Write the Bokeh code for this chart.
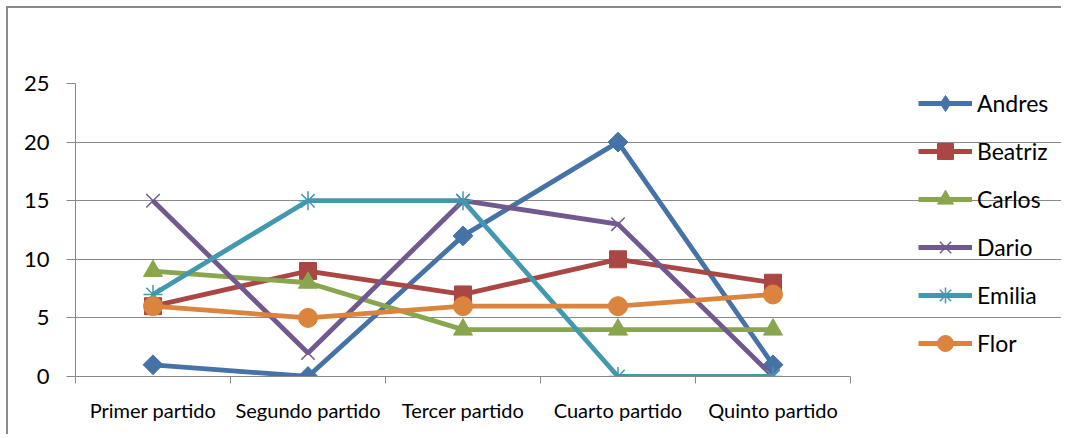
import math
from bokeh.plotting import figure
from bokeh.models import FixedTicker, Legend, LegendItem, InlineStyleSheet
from bokeh.embed import file_html
from bokeh.resources import INLINE

partidos = ["Primer partido", "Segundo partido", "Tercer partido", "Cuarto partido", "Quinto partido"]
posiciones = [1, 2, 3, 4, 5]
limites = [0.5, 1.5, 2.5, 3.5, 4.5, 5.5]
y_ticks = [0, 5, 10, 15, 20, 25]

andres = [1, 0, 12, 20, 1]
beatriz = [6, 9, 7, 10, 8]
carlos = [9, 8, 4, 4, 4]
dario = [15, 2, 15, 13, 0]
emilia = [7, 15, 15, 0, 0]
flor = [6, 5, 6, 6, 7]

nombres = ["Andres", "Beatriz", "Carlos", "Dario", "Emilia", "Flor"]
series = [andres, beatriz, carlos, dario, emilia, flor]
colores = ["#4572A7", "#AA4643", "#89A54E", "#71588F", "#4198AF", "#DB843D"]

FONT = "Lato"
GRAY = "#898989"

# frame: plot area 775px wide for 5 categories, extended to the right for the legend
CAT_PX = 155.0
FRAME_W = 1055 - 67
x_end = 0.5 + FRAME_W / CAT_PX

css = InlineStyleSheet(css=":host { border-top: 2px solid #8a8a8a; border-left: 2px solid #8a8a8a; }")

p = figure(width=1055, height=428, output_backend="svg", toolbar_location=None,
           x_range=(0.5, x_end), y_range=(0, 25),
           min_border_left=67, min_border_right=0, min_border_top=75, min_border_bottom=60,
           stylesheets=[css])
p.margin = (6, 0, 0, 6)
p.outline_line_color = None
p.background_fill_color = "white"
p.border_fill_color = "white"

# grid
p.xgrid.grid_line_color = None
p.ygrid.grid_line_color = GRAY
p.ygrid.grid_line_width = 1
p.ygrid.ticker = FixedTicker(ticks=y_ticks)
p.ygrid.bounds = (0.5, 5.5)

# y axis
p.yaxis.ticker = FixedTicker(ticks=y_ticks)
p.yaxis.axis_line_color = GRAY
p.yaxis.major_tick_line_color = GRAY
p.yaxis.major_tick_out = 9
p.yaxis.major_tick_in = 0
p.yaxis.minor_tick_line_color = None
p.yaxis.major_label_standoff = 17
p.yaxis.major_label_text_font = FONT
p.yaxis.major_label_text_font_size = "22px"
p.yaxis.major_label_text_color = "black"

# x axis
p.xaxis.ticker = FixedTicker(ticks=posiciones, minor_ticks=limites)
p.xaxis.bounds = (0.5, 5.5)
p.xaxis.major_label_overrides = {i: n for i, n in zip(posiciones, partidos)}
p.xaxis.axis_line_color = GRAY
p.xaxis.major_tick_line_color = None
p.xaxis.major_tick_out = 0
p.xaxis.major_tick_in = 0
p.xaxis.minor_tick_line_color = GRAY
p.xaxis.minor_tick_out = 7
p.xaxis.minor_tick_in = 0
p.xaxis.major_label_standoff = 14
p.xaxis.major_label_text_font = FONT
p.xaxis.major_label_text_font_size = "20px"
p.xaxis.major_label_text_color = "black"

marcadores = [
    dict(marker="square", size=14, angle=math.pi / 4, line_width=1, legend_marker="diamond"),
    dict(marker="square", size=17, angle=0, line_width=1, legend_marker="square"),
    dict(marker="triangle", size=19, angle=0, line_width=1, legend_marker="triangle"),
    dict(marker="x", size=19, angle=0, line_width=1.5, legend_marker="x"),
    dict(marker="asterisk", size=19, angle=0, line_width=1.5, legend_marker="asterisk"),
    dict(marker="circle", size=19, angle=0, line_width=1, legend_marker="circle"),
]

items = []
nan = float("nan")
for nombre, vals, color, m in zip(nombres, series, colores, marcadores):
    ln = p.line(posiciones, vals, line_color=color, line_width=4.8)
    sc = p.scatter(posiciones, vals, marker=m["marker"], size=m["size"], angle=m["angle"],
                   fill_color=color, line_color=color, line_width=m["line_width"])
    if m["legend_marker"] != m["marker"]:
        # legend glyph only (legend glyphs ignore the marker angle)
        lg = p.scatter(x=[nan], y=[nan], marker=m["legend_marker"], size=m["size"],
                       fill_color=color, line_color=color, line_width=m["line_width"])
        items.append(LegendItem(label=nombre, renderers=[ln, lg]))
    else:
        items.append(LegendItem(label=nombre, renderers=[ln, sc]))

legend = Legend(items=items, location=(843, 13), glyph_width=54, glyph_height=40,
                label_height=20, spacing=8, padding=0, margin=0, label_standoff=5,
                label_text_font=FONT, label_text_font_size="23px", label_text_color="black",
                border_line_color=None, background_fill_alpha=0)
p.add_layout(legend, "center")

open("out.html", "w").write(file_html(p, INLINE))
